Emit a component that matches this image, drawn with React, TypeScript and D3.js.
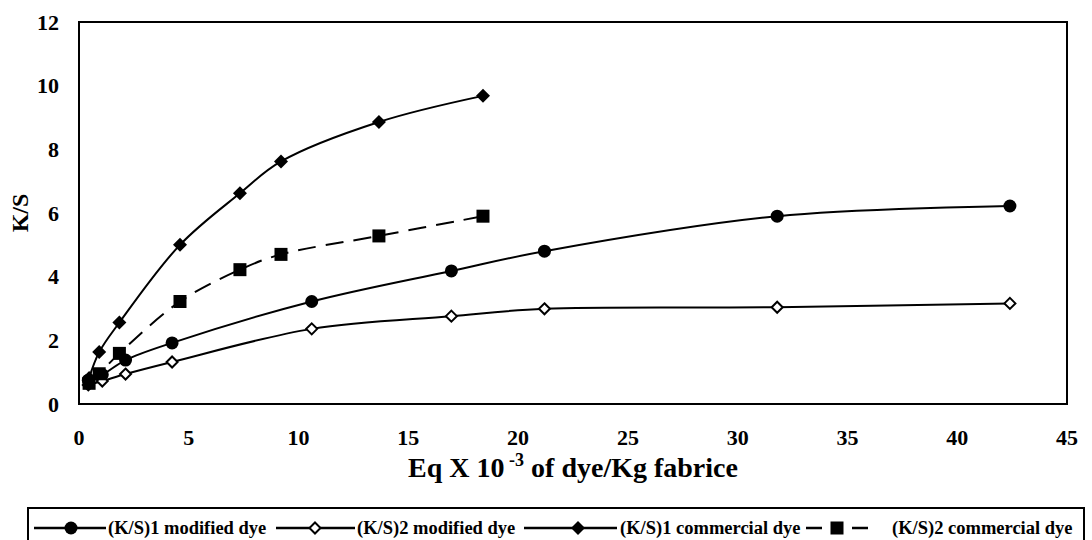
import React from "react";
import * as d3 from "d3";

const modX = [0.424, 1.06, 2.12, 4.24, 10.6, 16.96, 21.2, 31.8, 42.4];
const modKS1 = [0.75, 0.92, 1.38, 1.92, 3.22, 4.18, 4.8, 5.9, 6.22];
const modKS2 = [0.6, 0.72, 0.94, 1.32, 2.36, 2.76, 2.99, 3.04, 3.16];
const comX = [0.46, 0.92, 1.84, 4.6, 7.33, 9.2, 13.66, 18.4];
const comKS1 = [0.82, 1.63, 2.56, 5.0, 6.62, 7.62, 8.86, 9.68];
const comKS2 = [0.65, 0.95, 1.59, 3.22, 4.22, 4.7, 5.28, 5.9];
const xTicks = [0, 5, 10, 15, 20, 25, 30, 35, 40, 45];
const yTicks = [0, 2, 4, 6, 8, 10, 12];
const legendLabels = [
  "(K/S)1 modified dye",
  "(K/S)2 modified dye",
  "(K/S)1 commercial dye",
  "(K/S)2 commercial dye",
];

type Marker = "circle" | "diamondFilled" | "diamondOpen" | "square";

const series: { xs: number[]; ys: number[]; marker: Marker; dash?: string }[] = [
  { xs: modX, ys: modKS1, marker: "circle" },
  { xs: modX, ys: modKS2, marker: "diamondOpen" },
  { xs: comX, ys: comKS1, marker: "diamondFilled" },
  { xs: comX, ys: comKS2, marker: "square", dash: "18,10" },
];

const FONT = "Liberation Serif";

function MarkerShape({ type, x, y }: { type: Marker; x: number; y: number }) {
  if (type === "circle") return <circle cx={x} cy={y} r={6.5} fill="#000" />;
  if (type === "square")
    return <rect x={x - 6.5} y={y - 6.5} width={13} height={13} fill="#000" />;
  if (type === "diamondFilled") {
    const s = 7;
    return <path d={`M${x},${y - s}L${x + s},${y}L${x},${y + s}L${x - s},${y}Z`} fill="#000" />;
  }
  const s = 5.5;
  return (
    <path
      d={`M${x},${y - s}L${x + s},${y}L${x},${y + s}L${x - s},${y}Z`}
      fill="#fff"
      stroke="#000"
      strokeWidth={2}
    />
  );
}

const txt = (size: number): React.CSSProperties => ({
  fontFamily: FONT,
  fontSize: size + "px",
  fontWeight: 700,
});

export default function App() {
  const W = 1092;
  const H = 540;
  const x = d3.scaleLinear().domain([0, 45]).range([79, 1067]);
  const y = d3.scaleLinear().domain([0, 12]).range([404, 22]);
  const line = d3
    .line<[number, number]>()
    .x((d) => x(d[0]))
    .y((d) => y(d[1]))
    .curve(d3.curveCatmullRom.alpha(0.5));

  const legendItems = [
    { lx1: 34, lx2: 106, mx: 71, tx: 108 },
    { lx1: 276, lx2: 355, mx: 315, tx: 357 },
    { lx1: 524, lx2: 617, mx: 578, tx: 620 },
    { lx1: 806, lx2: 868, mx: 837, tx: 892 },
  ];
  const ly = 528;

  return (
    <svg
      width={W}
      height={H}
      style={{ position: "absolute", left: 0, top: 0, background: "#fff" }}
    >
      <rect x={0} y={0} width={W} height={H} fill="#fff" />
      {series.map((s, i) => (
        <path
          key={"l" + i}
          d={line(s.xs.map((v, j) => [v, s.ys[j]] as [number, number])) || ""}
          fill="none"
          stroke="#000"
          strokeWidth={2}
          strokeDasharray={s.dash}
        />
      ))}
      {series.map((s, i) =>
        s.xs.map((v, j) => (
          <MarkerShape key={`m${i}-${j}`} type={s.marker} x={x(v)} y={y(s.ys[j])} />
        ))
      )}
      <rect
        x={x(0)}
        y={y(12)}
        width={x(45) - x(0)}
        height={y(0) - y(12)}
        fill="none"
        stroke="#000"
        strokeWidth={2}
      />
      {xTicks.map((t) => (
        <text key={"xt" + t} x={x(t)} y={445} textAnchor="middle" style={txt(22)}>
          {t}
        </text>
      ))}
      {yTicks.map((t) => (
        <text key={"yt" + t} x={59} y={y(t) + 7.5} textAnchor="end" style={txt(22)}>
          {t}
        </text>
      ))}
      <text x={573} y={477} textAnchor="middle" style={txt(28)}>
        Eq X 10
        <tspan dy={-11} style={{ fontSize: "18px" }}> -3</tspan>
        <tspan dy={11}> of dye/Kg fabrice</tspan>
      </text>
      <text transform="translate(28,213) rotate(-90)" textAnchor="middle" style={txt(24)}>
        K/S
      </text>
      <rect x={28} y={508} width={1056} height={45} fill="none" stroke="#000" strokeWidth={2} />
      {legendItems.map((it, i) => (
        <g key={"lg" + i}>
          <line
            x1={it.lx1}
            x2={it.lx2}
            y1={ly}
            y2={ly}
            stroke="#000"
            strokeWidth={2.5}
            strokeDasharray={series[i].dash ? "16,30" : undefined}
          />
          <MarkerShape type={series[i].marker} x={it.mx} y={ly} />
          <text x={it.tx} y={ly + 6} style={txt(18.5)}>
            {legendLabels[i]}
          </text>
        </g>
      ))}
    </svg>
  );
}
